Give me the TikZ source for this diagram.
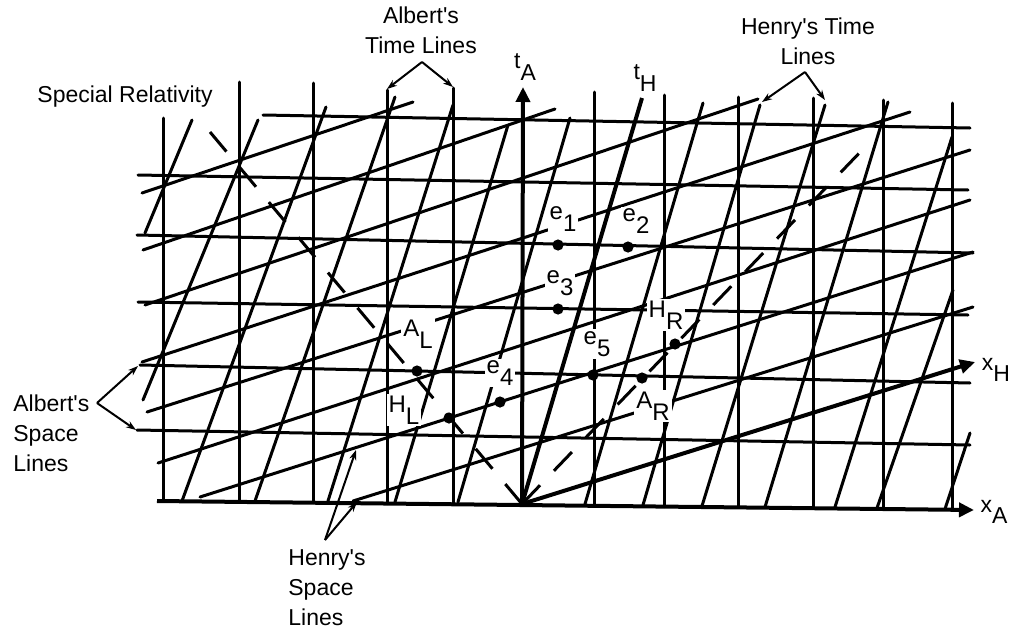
\documentclass[tikz,border=0pt]{standalone}
\usepackage{fontspec}
\setmainfont{Liberation Sans}
\usetikzlibrary{arrows.meta}
\newcommand{\lo}[1]{\raisebox{-0.5em}{#1}}
\newcommand{\q}{\textquotesingle}
\begin{document}
\begin{tikzpicture}[x=0.5pt,y=-0.5pt,
  grid/.style={line width=1.5pt, line cap=round},
  axis/.style={line width=2pt},
  axarrow/.style={axis, -{Triangle[length=7.5pt,width=7pt]}},
  light/.style={line width=1.5pt, dash pattern=on 13pt off 10pt},
  ann/.style={line width=1pt, -{Stealth[length=5pt,width=3.5pt]}},
  lbl/.style={font=\fontsize{11.5}{15}\selectfont, inner sep=1pt},
  evl/.style={lbl, font=\fontsize{12}{15}\selectfont, fill=white},
  dot/.style={circle, fill=black, inner sep=0pt, minimum size=5.6pt}]
\useasboundingbox (0,0) rectangle (1013,632);
\coordinate (O) at (522,504);

% Albert's time lines (verticals)
\foreach \x/\t in {163/118, 239/82, 313/83, 387/90, 453/88, 594/92, 664/95, 738/97, 813/98, 883/100, 952/103}
  \draw[grid] (\x,\t) -- (\x,{501+9*(\x-157)/817});
% Albert's space lines (horizontals)
\foreach \xa/\ya/\xb/\yb in {137/430/970/445, 140/365/970/383, 138/302/968/315, 137/235/973/253, 138/175/968/190, 263/115/970/128}
  \draw[grid] (\xa,\ya) -- (\xb,\yb);

% Henry's time lines
\foreach \xa/\ya/\xb/\yb in {145/233/192/120, 143/400/258/120, 182/501/326/107, 255/501/395/97, 328/501/453/105, 395/502/508/125, 458/502/570/118, 585/504/703/103, 643/505/760/105, 702/506/825/105, 765/507/888/102, 835/507/952/137, 877/508/953/290, 945/509/970/433}
  \draw[grid] (\xa,\ya) -- (\xb,\yb);
% Henry's space lines
\foreach \xa/\ya/\xb/\yb in {142/193/413/102, 143/250/555/109, 145/305/758/99, 142/362/910/112, 147/412/970/150, 158/463/970/200, 200/497/973/252, 353/501/973/307}
  \draw[grid] (\xa,\ya) -- (\xb,\yb);

% axes
\coordinate (tAend) at (523,87);
\coordinate (tHend) at (642,98);
\coordinate (xAstart) at (157,501);
\coordinate (xAend) at (974,510);
\coordinate (xHend) at (975,362);
\draw[axarrow] (O) -- (tAend);
\draw[axis] (O) -- (tHend);
\draw[axarrow] (xAstart) -- (xAend);
\draw[axarrow] (O) -- (xHend);

% light lines
\coordinate (LL) at (210,132);
\coordinate (LR) at (867,145);
\draw[light] (O) -- (LL);
\draw[light] (O) -- (LR);

% axis labels
\node[lbl] (tA) at (525,67) {t\lo{A}};
\node[lbl] (tH) at (645,78) {t\lo{H}};
\node[lbl] (xH) at (996,370) {x\lo{H}};
\node[lbl] (xA) at (994,512) {x\lo{A}};

% event labels
\node[evl] (le1) at (563,219) {e\lo{1}};
\node[evl] (le2) at (636,221) {e\lo{2}};
\node[evl] (le3) at (560,283) {e\lo{3}};
\node[evl] (le4) at (500,373) {e\lo{4}};
\node[evl] (le5) at (597,344) {e\lo{5}};
\node[evl] (lHL) at (404,410) {H\lo{L}};
\node[evl] (lAL) at (418,334) {A\lo{L}};
\node[evl] (lAR) at (653,406) {A\lo{R}};
\node[evl] (lHR) at (666,315) {H\lo{R}};

% events
\node[dot] (e1) at (558,245) {};
\node[dot] (e2) at (628,247) {};
\node[dot] (e3) at (558,309) {};
\node[dot] (e4) at (500,402) {};
\node[dot] (e5) at (593,375) {};
\node[dot] (HL) at (449,418) {};
\node[dot] (AL) at (417,371) {};
\node[dot] (AR) at (642,378) {};
\node[dot] (HR) at (675,344) {};

% annotations
\node[lbl] (sr) at (125,97) {Special Relativity};

\node[lbl, align=center] (atl) at (421,30) {Albert\q s\\Time Lines};
\coordinate (atlA) at (422,62);
\coordinate (atl1) at (387,89);
\coordinate (atl2) at (453,87);
\draw[ann] (atlA) -- (atl1);
\draw[ann] (atlA) -- (atl2);

\node[lbl, align=center] (htl) at (808,41) {Henry\q s Time\\Lines};
\coordinate (htlA) at (805,72);
\coordinate (htl1) at (762,102);
\coordinate (htl2) at (825,100);
\draw[ann] (htlA) -- (htl1);
\draw[ann] (htlA) -- (htl2);

\node[lbl, align=left, anchor=west] (asl) at (11,433) {Albert\q s\\Space\\Lines};
\coordinate (aslA) at (97,403);
\coordinate (asl1) at (138,366);
\coordinate (asl2) at (136,430);
\draw[ann] (aslA) -- (asl1);
\draw[ann] (aslA) -- (asl2);

\node[lbl, align=left, anchor=north west] (hsl) at (286,547) {Henry\q s\\Space\\Lines};
\coordinate (hslA) at (325,540);
\coordinate (hsl1) at (357,502);
\coordinate (hsl2) at (356,450);
\draw[ann] (hslA) -- (hsl1);
\draw[ann] (hslA) -- (hsl2);
\end{tikzpicture}
\end{document}
